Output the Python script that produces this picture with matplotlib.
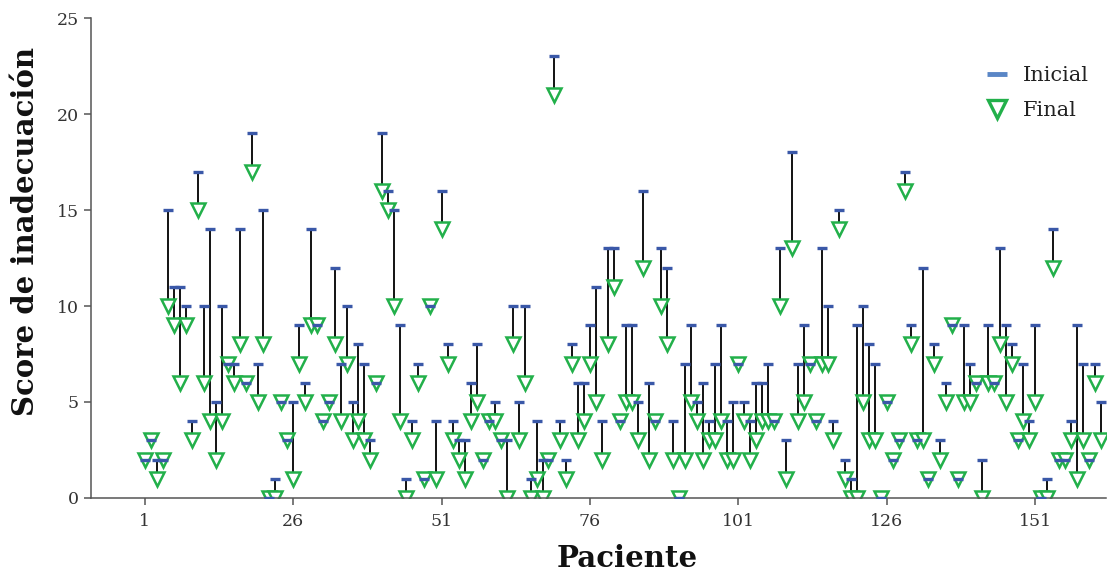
"""Initial vs final inadequacy score per patient (drop-line chart)."""

import matplotlib

matplotlib.use("Agg")
import matplotlib.pyplot as plt
from matplotlib.lines import Line2D
import numpy as np


PATIENTS = np.arange(1, 163)

INICIAL = [
    2, 3, 2, 2, 15, 11, 11, 10, 4, 17,
    10, 14, 5, 10, 7, 7, 14, 6, 19, 7,
    15, 0, 1, 5, 3, 5, 9, 6, 14, 9,
    4, 5, 12, 7, 10, 5, 8, 7, 3, 6,
    19, 16, 15, 9, 1, 4, 7, 1, 10, 4,
    16, 8, 4, 3, 3, 6, 8, 2, 4, 5,
    3, 3, 10, 5, 10, 1, 4, 2, 2, 23,
    4, 2, 8, 6, 6, 9, 11, 4, 13, 13,
    4, 9, 9, 5, 16, 6, 4, 13, 12, 4,
    0, 7, 9, 5, 6, 4, 7, 9, 4, 5,
    7, 5, 4, 6, 6, 7, 4, 13, 3, 18,
    7, 9, 7, 4, 13, 10, 4, 15, 2, 1,
    9, 10, 8, 7, 0, 5, 2, 3, 17, 9,
    3, 12, 1, 8, 3, 6, 9, 1, 9, 7,
    6, 2, 9, 6, 13, 9, 8, 3, 7, 4,
    9, 0, 1, 14, 2, 2, 4, 9, 7, 2,
    7, 5,
]

FINAL = [
    2, 3, 1, 2, 10, 9, 6, 9, 3, 15,
    6, 4, 2, 4, 7, 6, 8, 6, 17, 5,
    8, 0, 0, 5, 3, 1, 7, 5, 9, 9,
    4, 5, 8, 4, 7, 3, 4, 3, 2, 6,
    16, 15, 10, 4, 0, 3, 6, 1, 10, 1,
    14, 7, 3, 2, 1, 4, 5, 2, 4, 4,
    3, 0, 8, 3, 6, 0, 1, 0, 2, 21,
    3, 1, 7, 3, 4, 7, 5, 2, 8, 11,
    4, 5, 5, 3, 12, 2, 4, 10, 8, 2,
    0, 2, 5, 4, 2, 3, 3, 4, 2, 2,
    7, 4, 2, 3, 4, 4, 4, 10, 1, 13,
    4, 5, 7, 4, 7, 7, 3, 14, 1, 0,
    0, 5, 3, 3, 0, 5, 2, 3, 16, 8,
    3, 3, 1, 7, 2, 5, 9, 1, 5, 5,
    6, 0, 6, 6, 8, 5, 7, 3, 4, 3,
    5, 0, 0, 12, 2, 2, 3, 1, 3, 2,
    6, 3,
]

X_TICKS = [1, 26, 51, 76, 101, 126, 151]
Y_TICKS = [0, 5, 10, 15, 20, 25]

BLUE = "#3a58a8"
BLUE_LEGEND = "#5a86c6"
GREEN = "#22b04a"
AXIS_GREY = "#555555"
TEXT_GREY = "#333333"


def main() -> None:
    plt.rcParams.update(
        {
            "font.family": "DejaVu Serif",
            "font.size": 12,
        }
    )
    figure = plt.figure(figsize=(11.1, 5.79), dpi=100)
    axis = figure.add_axes([0.0817, 0.1399, 0.9147, 0.829])

    axis.vlines(PATIENTS, FINAL, INICIAL, color="black", linewidth=1.3, zorder=1)
    axis.plot(
        PATIENTS,
        FINAL,
        linestyle="none",
        marker="v",
        markersize=9.5,
        markerfacecolor="white",
        markeredgecolor=GREEN,
        markeredgewidth=1.8,
        zorder=2,
    )
    axis.plot(
        PATIENTS,
        INICIAL,
        linestyle="none",
        marker="_",
        markersize=7,
        markeredgewidth=2.4,
        color=BLUE,
        zorder=3,
    )

    axis.set_xlim(-8.1, 162.9)
    axis.set_ylim(0, 25)
    axis.set_xticks(X_TICKS)
    axis.set_yticks(Y_TICKS)
    axis.tick_params(colors=AXIS_GREY, labelcolor=TEXT_GREY, labelsize=12.5, length=5, width=1.1)
    axis.tick_params(axis="x", pad=6)
    for side in ("top", "right"):
        axis.spines[side].set_visible(False)
    for side in ("left", "bottom"):
        axis.spines[side].set_color(AXIS_GREY)
        axis.spines[side].set_linewidth(1.1)

    axis.set_xlabel("Paciente", fontsize=21, fontweight="bold", color="#111111")
    axis.xaxis.set_label_coords(0.528, -0.095)
    axis.set_ylabel("Score de inadecuación", fontsize=21, fontweight="bold", color="#111111")
    axis.yaxis.set_label_coords(-0.05, 0.556)

    handles = [
        Line2D([], [], linestyle="none", marker="_", markersize=14, markeredgewidth=3.5, color=BLUE_LEGEND),
        Line2D(
            [],
            [],
            linestyle="none",
            marker="v",
            markersize=13,
            markerfacecolor="white",
            markeredgecolor=GREEN,
            markeredgewidth=2.4,
        ),
    ]
    figure.legend(
        handles,
        ["Inicial", "Final"],
        loc="upper left",
        bbox_to_anchor=(975 / 1110, 1 - 58 / 579),
        frameon=False,
        fontsize=15,
        handlelength=1.3,
        handletextpad=0.6,
        labelspacing=0.75,
        borderaxespad=0,
        labelcolor="#222222",
    )

    figure.savefig("out.png", dpi=100)
    plt.close(figure)


if __name__ == "__main__":
    main()
